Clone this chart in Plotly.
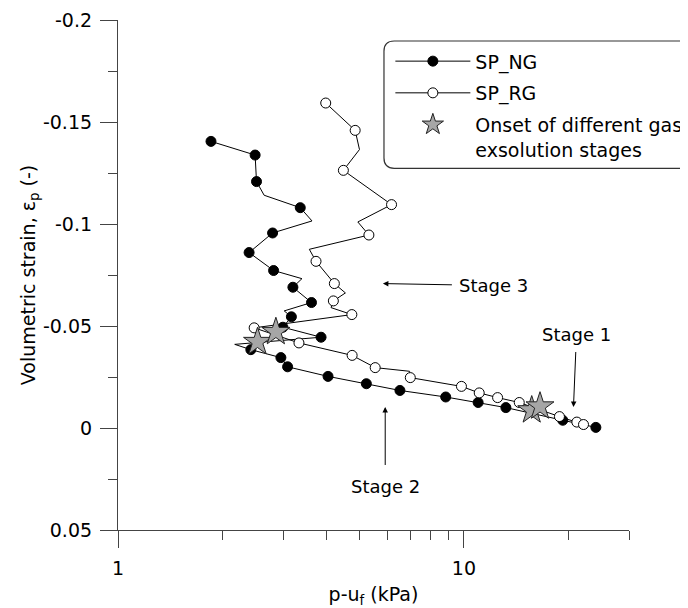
import plotly.graph_objects as go

# SP_NG: line vertices (p-u_f in kPa, volumetric strain); 1 = point drawn with a symbol, 0 = bend only
NG_P = [1.857, 2.491, 2.514, 2.645, 3.364, 3.637, 2.798, 2.393, 2.817, 3.402, 3.203, 3.625, 3.023, 3.171,
        2.997, 3.863, 2.175, 2.421, 2.957, 3.092, 4.047, 5.223, 6.531, 8.857, 10.99, 13.22, 19.30, 24.06]
NG_EPS = [-0.1405, -0.1338, -0.1208, -0.1141, -0.1080, -0.1015, -0.0956, -0.0860, -0.0772, -0.0732,
          -0.0690, -0.0615, -0.0574, -0.0545, -0.0494, -0.0445, -0.0410, -0.0384, -0.0345, -0.0300,
          -0.0253, -0.0217, -0.0184, -0.0152, -0.0125, -0.0100, -0.0038, -0.0003]
NG_SYM = [1, 1, 1, 0, 1, 0, 1, 1, 1, 0, 1, 1, 0, 1, 1, 1, 0, 1, 1, 1, 1, 1, 1, 1, 1, 1, 1, 1]

# SP_RG
RG_P = [3.985, 4.848, 4.989, 4.482, 6.176, 4.935, 5.312, 3.573, 3.736, 4.221, 4.543, 4.193, 4.129, 4.742,
        2.475, 3.335, 4.751, 5.539, 6.965, 6.997, 9.835, 11.07, 12.51, 14.45, 18.88, 21.20, 22.16]
RG_EPS = [-0.1593, -0.1459, -0.1365, -0.1263, -0.1095, -0.1010, -0.0946, -0.0876, -0.0817, -0.0708,
          -0.0662, -0.0623, -0.0590, -0.0556, -0.0491, -0.0417, -0.0356, -0.0296, -0.0278, -0.0247,
          -0.0204, -0.0172, -0.0149, -0.0125, -0.0056, -0.0029, -0.0017]
RG_SYM = [1, 1, 0, 1, 1, 0, 1, 0, 1, 1, 0, 1, 0, 1, 1, 1, 1, 1, 0, 1, 1, 1, 1, 1, 1, 1, 1]

# onset of gas exsolution stages
STAR_P = [2.531, 2.860, 15.70, 16.59]
STAR_EPS = [-0.0422, -0.0471, -0.0087, -0.0106]

Y_TICKS = [-0.2, -0.15, -0.1, -0.05, 0, 0.05]
Y_LABELS = ["-0.2", "-0.15", "-0.1", "-0.05", "0", "0.05"]
X_TICKS = [1, 10]
X_MINOR = [2, 3, 4, 5, 6, 7, 8, 9, 20, 30]

FONT = "DejaVu Sans"
AX = "#444444"

fig = go.Figure()


def add_series(px, eps, sym, name, fill):
    fig.add_trace(go.Scatter(x=px, y=eps, mode="lines", line=dict(color="black", width=1),
                             showlegend=False, hoverinfo="skip"))
    mx = [p for p, s in zip(px, sym) if s]
    my = [e for e, s in zip(eps, sym) if s]
    mk = dict(symbol="circle", size=10, color=fill, line=dict(color="black", width=1))
    fig.add_trace(go.Scatter(x=mx, y=my, mode="markers", marker=mk, showlegend=False))
    # legend entry
    fig.add_trace(go.Scatter(x=[None], y=[None], mode="lines+markers", name=name,
                             line=dict(color="black", width=1), marker=mk, legendgroup=name))


add_series(NG_P, NG_EPS, NG_SYM, "SP_NG", "black")
add_series(RG_P, RG_EPS, RG_SYM, "SP_RG", "white")

fig.add_trace(go.Scatter(x=STAR_P, y=STAR_EPS, mode="markers",
                         name="Onset of different gas<br>exsolution stages",
                         legendgroup="star",
                         marker=dict(symbol="star", size=21, color="#a6a6a6",
                                     line=dict(color="#222222", width=1))))

arrow = dict(showarrow=True, arrowhead=2, arrowsize=1.1, arrowwidth=1, arrowcolor="black",
             xref="x", yref="y", font=dict(family=FONT, size=18, color="black"))
fig.add_annotation(text="Stage 3", x=0.7657, y=-0.0708, ax=111, ay=2, startstandoff=6, **arrow)
fig.add_annotation(text="Stage 1", x=1.3166, y=-0.0103, ax=3, ay=-72, startstandoff=5, **arrow)
fig.add_annotation(text="Stage 2", x=0.7724, y=-0.0103, ax=0, ay=80, startstandoff=10, **arrow)

# rounded legend frame (runs off the right edge like the original)
x0, x1, y0, y1 = 0.5205, 1.25, 0.7092, 0.9588
rx, ry = 0.02, 0.02
path = (f"M {x0 + rx},{y1} L {x1 - rx},{y1} Q {x1},{y1} {x1},{y1 - ry} L {x1},{y0 + ry} "
        f"Q {x1},{y0} {x1 - rx},{y0} L {x0 + rx},{y0} Q {x0},{y0} {x0},{y0 + ry} "
        f"L {x0},{y1 - ry} Q {x0},{y1} {x0 + rx},{y1} Z")
fig.add_shape(type="path", path=path, xref="paper", yref="paper",
              line=dict(color="#333333", width=1.2), fillcolor="white", layer="below")

# page body has an 8px margin, so the figure is shifted 8px inside the window
fig.update_layout(
    width=680, height=600,
    margin=dict(l=110, r=59, t=12, b=78, autoexpand=False),
    plot_bgcolor="rgba(0,0,0,0)", paper_bgcolor="white",
    font=dict(family=FONT, size=19, color="black"),
    legend=dict(x=0.533, y=0.9563, xanchor="left", yanchor="top", valign="top",
                bgcolor="rgba(0,0,0,0)", borderwidth=0, tracegroupgap=4, itemwidth=75,
                font=dict(family=FONT, size=19)),
    xaxis=dict(type="log", range=[0, 1.4771], tickvals=X_TICKS, ticktext=["1", "10"],
               ticks="outside", ticklen=17, tickwidth=1.2, tickcolor=AX, ticklabelstandoff=4,
               showline=True, linecolor=AX, linewidth=1.2, showgrid=False, zeroline=False,
               automargin=False,
               minor=dict(tickvals=X_MINOR, ticks="outside", ticklen=9, tickwidth=1.2,
                          tickcolor=AX, showgrid=False),
               title=dict(text="p-u<sub>f</sub> (kPa)", standoff=14, font=dict(size=19))),
    yaxis=dict(range=[0.05, -0.2], tickvals=Y_TICKS, ticktext=Y_LABELS,
               ticks="outside", ticklen=17, tickwidth=1.2, tickcolor=AX, ticklabelstandoff=4,
               showline=True, linecolor=AX, linewidth=1.2, showgrid=False, zeroline=False,
               automargin=False,
               minor=dict(dtick=0.025, tick0=0, ticks="outside", ticklen=9, tickwidth=1.2,
                          tickcolor=AX, showgrid=False),
               title=dict(text="Volumetric strain, ε<sub>p</sub> (-)", standoff=2, font=dict(size=19))),
)

fig.write_html("out.html")
